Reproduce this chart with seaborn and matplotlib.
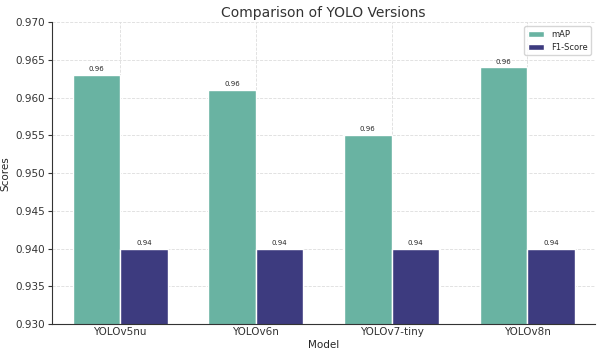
import pandas as pd
import matplotlib
matplotlib.use("Agg")
import matplotlib.pyplot as plt
import seaborn as sns

models = ["YOLOv5nu", "YOLOv6n", "YOLOv7-tiny", "YOLOv8n"]
map_scores = [0.963, 0.961, 0.9551, 0.964]
f1_scores = [0.940, 0.940, 0.940, 0.940]
metrics = ["mAP", "F1-Score"]
colors = ["#69b3a2", "#3d3b7f"]

df = pd.DataFrame({
    "Model": models * 2,
    "Metric": [metrics[0]] * len(models) + [metrics[1]] * len(models),
    "Score": map_scores + f1_scores,
})

sns.set_style("whitegrid", {"grid.linestyle": "--", "grid.color": "#dddddd",
                            "axes.edgecolor": "#333333"})
plt.rcParams["font.family"] = ["DejaVu Sans"]

fig, ax = plt.subplots(figsize=(6, 3.57), dpi=100)
sns.barplot(data=df, x="Model", y="Score", hue="Metric", palette=colors,
            width=0.7, errorbar=None, ax=ax, saturation=1)

for cont in ax.containers:
    ax.bar_label(cont, fmt="%.2f", padding=2, fontsize=5)

ax.set_ylim(0.930, 0.970)
ax.set_yticks([0.930, 0.935, 0.940, 0.945, 0.950, 0.955, 0.960, 0.965, 0.970])
ax.set_yticklabels([f"{v:.3f}" for v in ax.get_yticks()])
ax.set_title("Comparison of YOLO Versions", fontsize=10, color="#333333", pad=4)
ax.set_xlabel("Model", fontsize=7.5, labelpad=2)
ax.set_ylabel("Scores", fontsize=7.5)
ax.tick_params(axis="both", labelsize=7.5, length=3, pad=2, colors="#333333")
ax.tick_params(axis="y", left=True)
ax.tick_params(axis="x", length=0)
ax.grid(True, linewidth=0.6)
sns.despine(ax=ax)
ax.legend(loc="upper right", fontsize=6, frameon=True, title=None)

fig.subplots_adjust(left=0.087, right=0.992, top=0.938, bottom=0.092)
fig.savefig("out.png", dpi=100)
